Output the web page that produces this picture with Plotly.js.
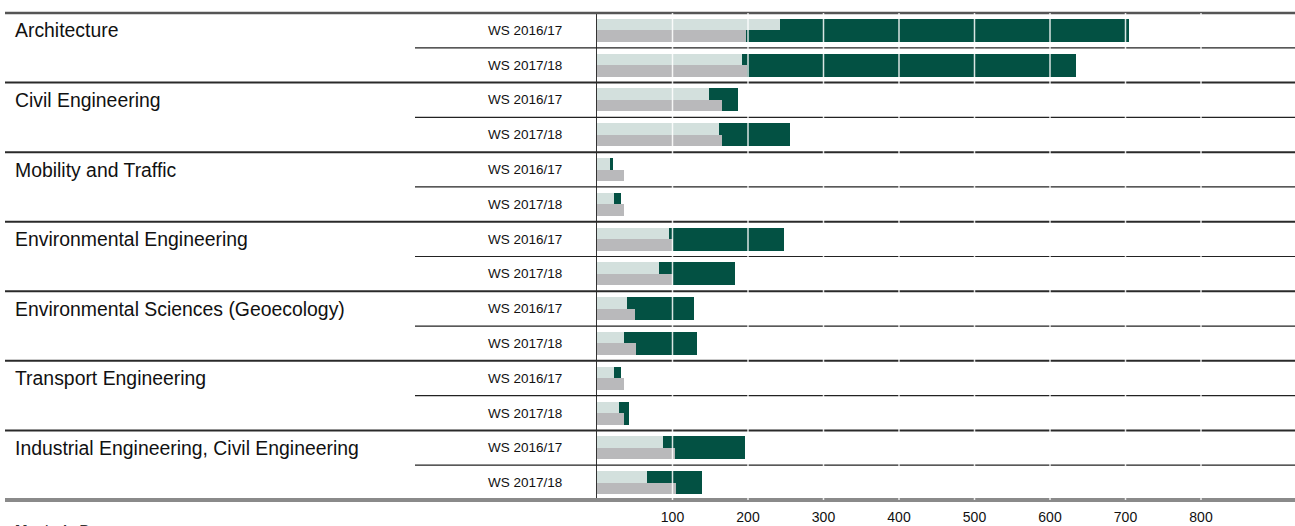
<!DOCTYPE html>
<html>
<head>
<meta charset="utf-8">
<script src="https://cdn.plot.ly/plotly-3.0.1.min.js"></script>
<style>
html,body{margin:0;padding:0;background:#fff;overflow:hidden;}
#chart{width:1295px;height:526px;}
</style>
</head>
<body>
<div id="chart"></div>
<script>
const categories = ['Architecture','Civil Engineering','Mobility and Traffic','Environmental Engineering','Environmental Sciences (Geoecology)','Transport Engineering','Industrial Engineering, Civil Engineering'];
const semesters = ['WS 2016/17','WS 2017/18'];
// values per row (category x semester, in order)
const totalValues = [705, 634, 187, 255, 21, 32, 248, 183, 129, 132, 32, 42, 196, 139];
const lightValues = [243, 192, 148, 162, 17, 23, 95, 82, 40, 36, 23, 29, 87, 66];
const grayValues  = [197, 199, 165, 165, 36, 36, 100, 100, 50, 52, 36, 36, 103, 104];
const tickValues = [100, 200, 300, 400, 500, 600, 700, 800];
const footerText = "Master's Degree";

const W = 1295, ML = 597, MR = 0, MT = 13, MB = 26;
const plotW = W - ML - MR;
const px2paper = p => (p - ML) / plotW;

const nRows = categories.length * semesters.length;
const rowIdx = [];
for (let i = 0; i < nRows; i++) rowIdx.push(i);

const DARK = '#035143', LIGHT = '#d3e0dd', GRAY = '#b9b9bb';
const FONT = 'Arial, Liberation Sans, sans-serif';

const traces = [
  {type:'bar', orientation:'h', y: rowIdx, x: totalValues, width: 0.66, offset: -0.33,
   marker:{color: DARK, line:{width:0}}, hoverinfo:'x', name:'Total'},
  {type:'bar', orientation:'h', y: rowIdx, x: lightValues, width: 0.33, offset: -0.33,
   marker:{color: LIGHT, line:{width:0}}, hoverinfo:'x', name:'Series A'},
  {type:'bar', orientation:'h', y: rowIdx, x: grayValues, width: 0.33, offset: 0,
   marker:{color: GRAY, line:{width:0}}, hoverinfo:'x', name:'Series B'}
];

const shapes = [];
const annotations = [];
const leftAll = px2paper(5);
const leftSem = px2paper(415);

// top line
shapes.push({type:'line', xref:'paper', yref:'paper', x0:leftAll, x1:1, y0:1, y1:1,
  line:{color:'#555', width:2.5}, layer:'above'});
categories.forEach((c, k) => {
  const r0 = k * semesters.length;
  if (k > 0) {
    shapes.push({type:'line', xref:'paper', yref:'y', x0:leftAll, x1:1, y0:r0-0.5, y1:r0-0.5,
      line:{color:'#2a2a2a', width:2}, layer:'above'});
  }
  for (let s = 1; s < semesters.length; s++) {
    shapes.push({type:'line', xref:'paper', yref:'y', x0:leftSem, x1:1, y0:r0+s-0.5, y1:r0+s-0.5,
      line:{color:'#222', width:1.2}, layer:'above'});
  }
  annotations.push({xref:'paper', yref:'y', x:px2paper(13), y:r0, xanchor:'left', yanchor:'middle',
    text:c, showarrow:false, font:{family:FONT, size:19.4, color:'#111'}});
  semesters.forEach((s, j) => {
    annotations.push({xref:'paper', yref:'y', x:px2paper(486), y:r0+j, xanchor:'left', yanchor:'middle',
      text:s, showarrow:false, font:{family:FONT, size:13.5, color:'#111'}});
  });
});
// bottom thick line
shapes.push({type:'line', xref:'paper', yref:'paper', x0:leftAll, x1:1, y0:0, y1:0,
  line:{color:'#8a8a8a', width:4}, layer:'above'});
// white grid lines above bars
tickValues.forEach(v => {
  shapes.push({type:'line', xref:'x', yref:'paper', x0:v, x1:v, y0:0, y1:1,
    line:{color:'rgba(255,255,255,0.85)', width:1.5}, layer:'above'});
});

annotations.push({xref:'paper', yref:'paper', x:px2paper(13), y:-(519-500)/(526-MT-MB),
  xanchor:'left', yanchor:'top', text:'<b>'+footerText+'</b>', showarrow:false,
  font:{family:FONT, size:15, color:'#333'}});

const layout = {
  width: W, height: 526,
  margin:{l:ML, r:MR, t:MT, b:MB, pad:0},
  paper_bgcolor:'#fff', plot_bgcolor:'#fff',
  barmode:'overlay', bargap:0,
  showlegend:false,
  xaxis:{range:[0, 924.5], tickvals: tickValues, ticktext: tickValues.map(String),
    showgrid:false, zeroline:false, showline:false, ticks:'', ticklabelstandoff:7,
    tickfont:{family:FONT, size:14, color:'#111'}, fixedrange:true},
  yaxis:{range:[nRows-0.5, -0.5], showticklabels:false, showgrid:false, zeroline:false,
    showline:true, linecolor:'#333', linewidth:1.5, ticks:'', fixedrange:true},
  shapes: shapes,
  annotations: annotations
};

Plotly.newPlot('chart', traces, layout, {displayModeBar:false, staticPlot:true});
</script>
</body>
</html>
